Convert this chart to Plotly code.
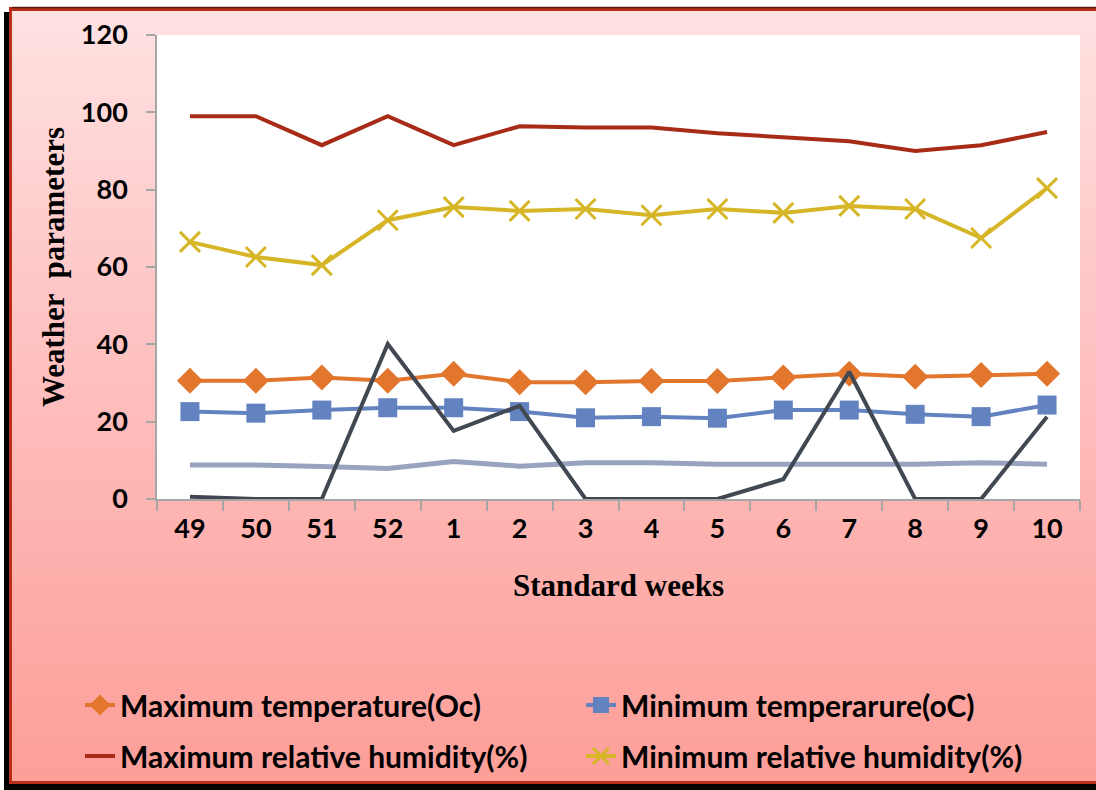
import plotly.graph_objects as go

weeks = ["49", "50", "51", "52", "1", "2", "3", "4", "5", "6", "7", "8", "9", "10"]
max_temp = [30.6, 30.6, 31.4, 30.6, 32.4, 30.2, 30.2, 30.5, 30.5, 31.4, 32.4, 31.6, 32.1, 32.4]
min_temp = [22.6, 22.2, 23.0, 23.6, 23.6, 22.6, 21.0, 21.3, 20.9, 23.0, 23.0, 21.9, 21.3, 24.3]
max_rh = [99.0, 99.0, 91.5, 99.0, 91.5, 96.4, 96.1, 96.1, 94.6, 93.6, 92.5, 90.0, 91.5, 94.9]
min_rh = [66.5, 62.6, 60.5, 72.1, 75.5, 74.5, 75.0, 73.4, 75.0, 74.0, 75.8, 75.0, 67.5, 80.4]
sunshine = [8.8, 8.8, 8.4, 7.9, 9.7, 8.5, 9.4, 9.4, 9.0, 9.0, 9.0, 9.0, 9.4, 9.0]
rainfall = [0.6, 0.0, 0.0, 40.1, 17.6, 24.1, 0.0, 0.0, 0.0, 5.1, 32.9, 0.0, 0.0, 21.3]

W, H = 1096, 790
L, R, T, B = 157, 16, 35, 291
PW, PH = W - L - R, H - T - B


def px_x(p):
    return (p - L) / PW


def px_y(p):
    return (H - B - p) / PH


fig = go.Figure()

fig.add_trace(go.Scatter(x=weeks, y=sunshine, mode="lines", name="Sunshine hours",
                         line=dict(color="#97A3BF", width=5), showlegend=False))
fig.add_trace(go.Scatter(x=weeks, y=max_rh, mode="lines", name="Maximum relative humidity(%)",
                         line=dict(color="#A82B17", width=4), legend="legend2", legendrank=1))
fig.add_trace(go.Scatter(x=weeks, y=min_rh, mode="lines+markers", name="Minimum relative humidity(%)",
                         line=dict(color="#D6B627", width=4),
                         marker=dict(symbol="x-thin", size=20, color="#D6B627",
                                     line=dict(color="#D6B627", width=3)),
                         legend="legend2", legendrank=2))
fig.add_trace(go.Scatter(x=weeks, y=max_temp, mode="lines+markers", name="Maximum temperature(Oc)",
                         line=dict(color="#E2762D", width=4),
                         marker=dict(symbol="diamond", size=20, color="#E2762D"),
                         legend="legend", legendrank=1))
fig.add_trace(go.Scatter(x=weeks, y=min_temp, mode="lines+markers", name="Minimum temperarure(oC)",
                         line=dict(color="#6283C0", width=4),
                         marker=dict(symbol="square", size=19, color="#6283C0"),
                         legend="legend", legendrank=2))
fig.add_trace(go.Scatter(x=weeks, y=rainfall, mode="lines", name="Rainfall(mm)",
                         line=dict(color="#414852", width=4), showlegend=False))

shapes = []
# outer shadow (black) and red frame
shapes.append(dict(type="rect", xref="paper", yref="paper", layer="below",
                   x0=px_x(4), x1=px_x(1200), y0=px_y(12), y1=px_y(790),
                   fillcolor="#000000", line=dict(width=0)))
shapes.append(dict(type="rect", xref="paper", yref="paper", layer="below",
                   x0=px_x(9), x1=px_x(1200), y0=px_y(7), y1=px_y(784),
                   fillcolor="#B8301C", line=dict(width=0)))
shapes.append(dict(type="line", xref="paper", yref="paper", layer="below",
                   x0=px_x(12), x1=px_x(1200), y0=px_y(7.5), y1=px_y(7.5),
                   line=dict(color="#5A1A10", width=1.5)))

# gradient background bands
top_c = (255, 226, 226)
mid_c = (254, 196, 196)
bot_c = (253, 158, 152)
y_top, y_bot = 11, 781
n = 154
step = (y_bot - y_top) / n
for i in range(n):
    fm = (i + 0.5) / n
    if fm < 0.4:
        t = fm / 0.4
        c = tuple(round(top_c[k] + (mid_c[k] - top_c[k]) * t) for k in range(3))
    else:
        t = (fm - 0.4) / 0.6
        c = tuple(round(mid_c[k] + (bot_c[k] - mid_c[k]) * t) for k in range(3))
    p0 = y_top + step * i
    p1 = y_bot if i == n - 1 else p0 + step + 1.5
    shapes.append(dict(type="rect", xref="paper", yref="paper", layer="below",
                       x0=px_x(12), x1=px_x(1200), y0=px_y(p0), y1=px_y(p1),
                       fillcolor="rgb(%d,%d,%d)" % c, line=dict(width=0)))

# white plot area
shapes.append(dict(type="rect", xref="paper", yref="paper", layer="below",
                   x0=0, x1=1, y0=0, y1=1, fillcolor="#FFFFFF", line=dict(width=0)))

legend_font = dict(family="Lato", size=30, color="#000000", weight="bold")
legend_common = dict(orientation="h", xanchor="left", yanchor="middle",
                     entrywidth=456, entrywidthmode="pixels", itemwidth=30,
                     font=legend_font, bgcolor="rgba(0,0,0,0)", traceorder="normal")

fig.update_layout(
    width=W, height=H,
    margin=dict(l=L, r=R, t=T, b=B, autoexpand=False),
    paper_bgcolor="#FFFFFF",
    plot_bgcolor="rgba(0,0,0,0)",
    shapes=shapes,
    showlegend=True,
    legend=dict(x=px_x(80), y=px_y(705), **legend_common),
    legend2=dict(x=px_x(80), y=px_y(756), **legend_common),
    xaxis=dict(type="category", range=[-0.5, 13.5],
               showline=True, linecolor="#A6A6A6", linewidth=1.5,
               ticks="outside", tickson="boundaries", ticklen=10, tickcolor="#A6A6A6", tickwidth=1.5,
               showgrid=False, zeroline=False, automargin=False,
               tickfont=dict(family="Lato", size=27, color="#000000", weight="bold"),
               ticklabelstandoff=5,
               title=dict(text="Standard weeks", standoff=31,
                          font=dict(family="Liberation Serif", size=31, color="#000000", weight="bold"))),
    yaxis=dict(range=[0, 120], dtick=20,
               showline=True, linecolor="#A6A6A6", linewidth=1.5,
               ticks="outside", ticklen=9, tickcolor="#A6A6A6", tickwidth=1.5,
               showgrid=False, zeroline=False, automargin=False,
               tickfont=dict(family="Lato", size=27, color="#000000", weight="bold"),
               ticklabelstandoff=13,
               title=dict(text="Weather  parameters", standoff=7,
                          font=dict(family="Liberation Serif", size=31, color="#000000", weight="bold"))),
)

fig.write_html("out.html")
